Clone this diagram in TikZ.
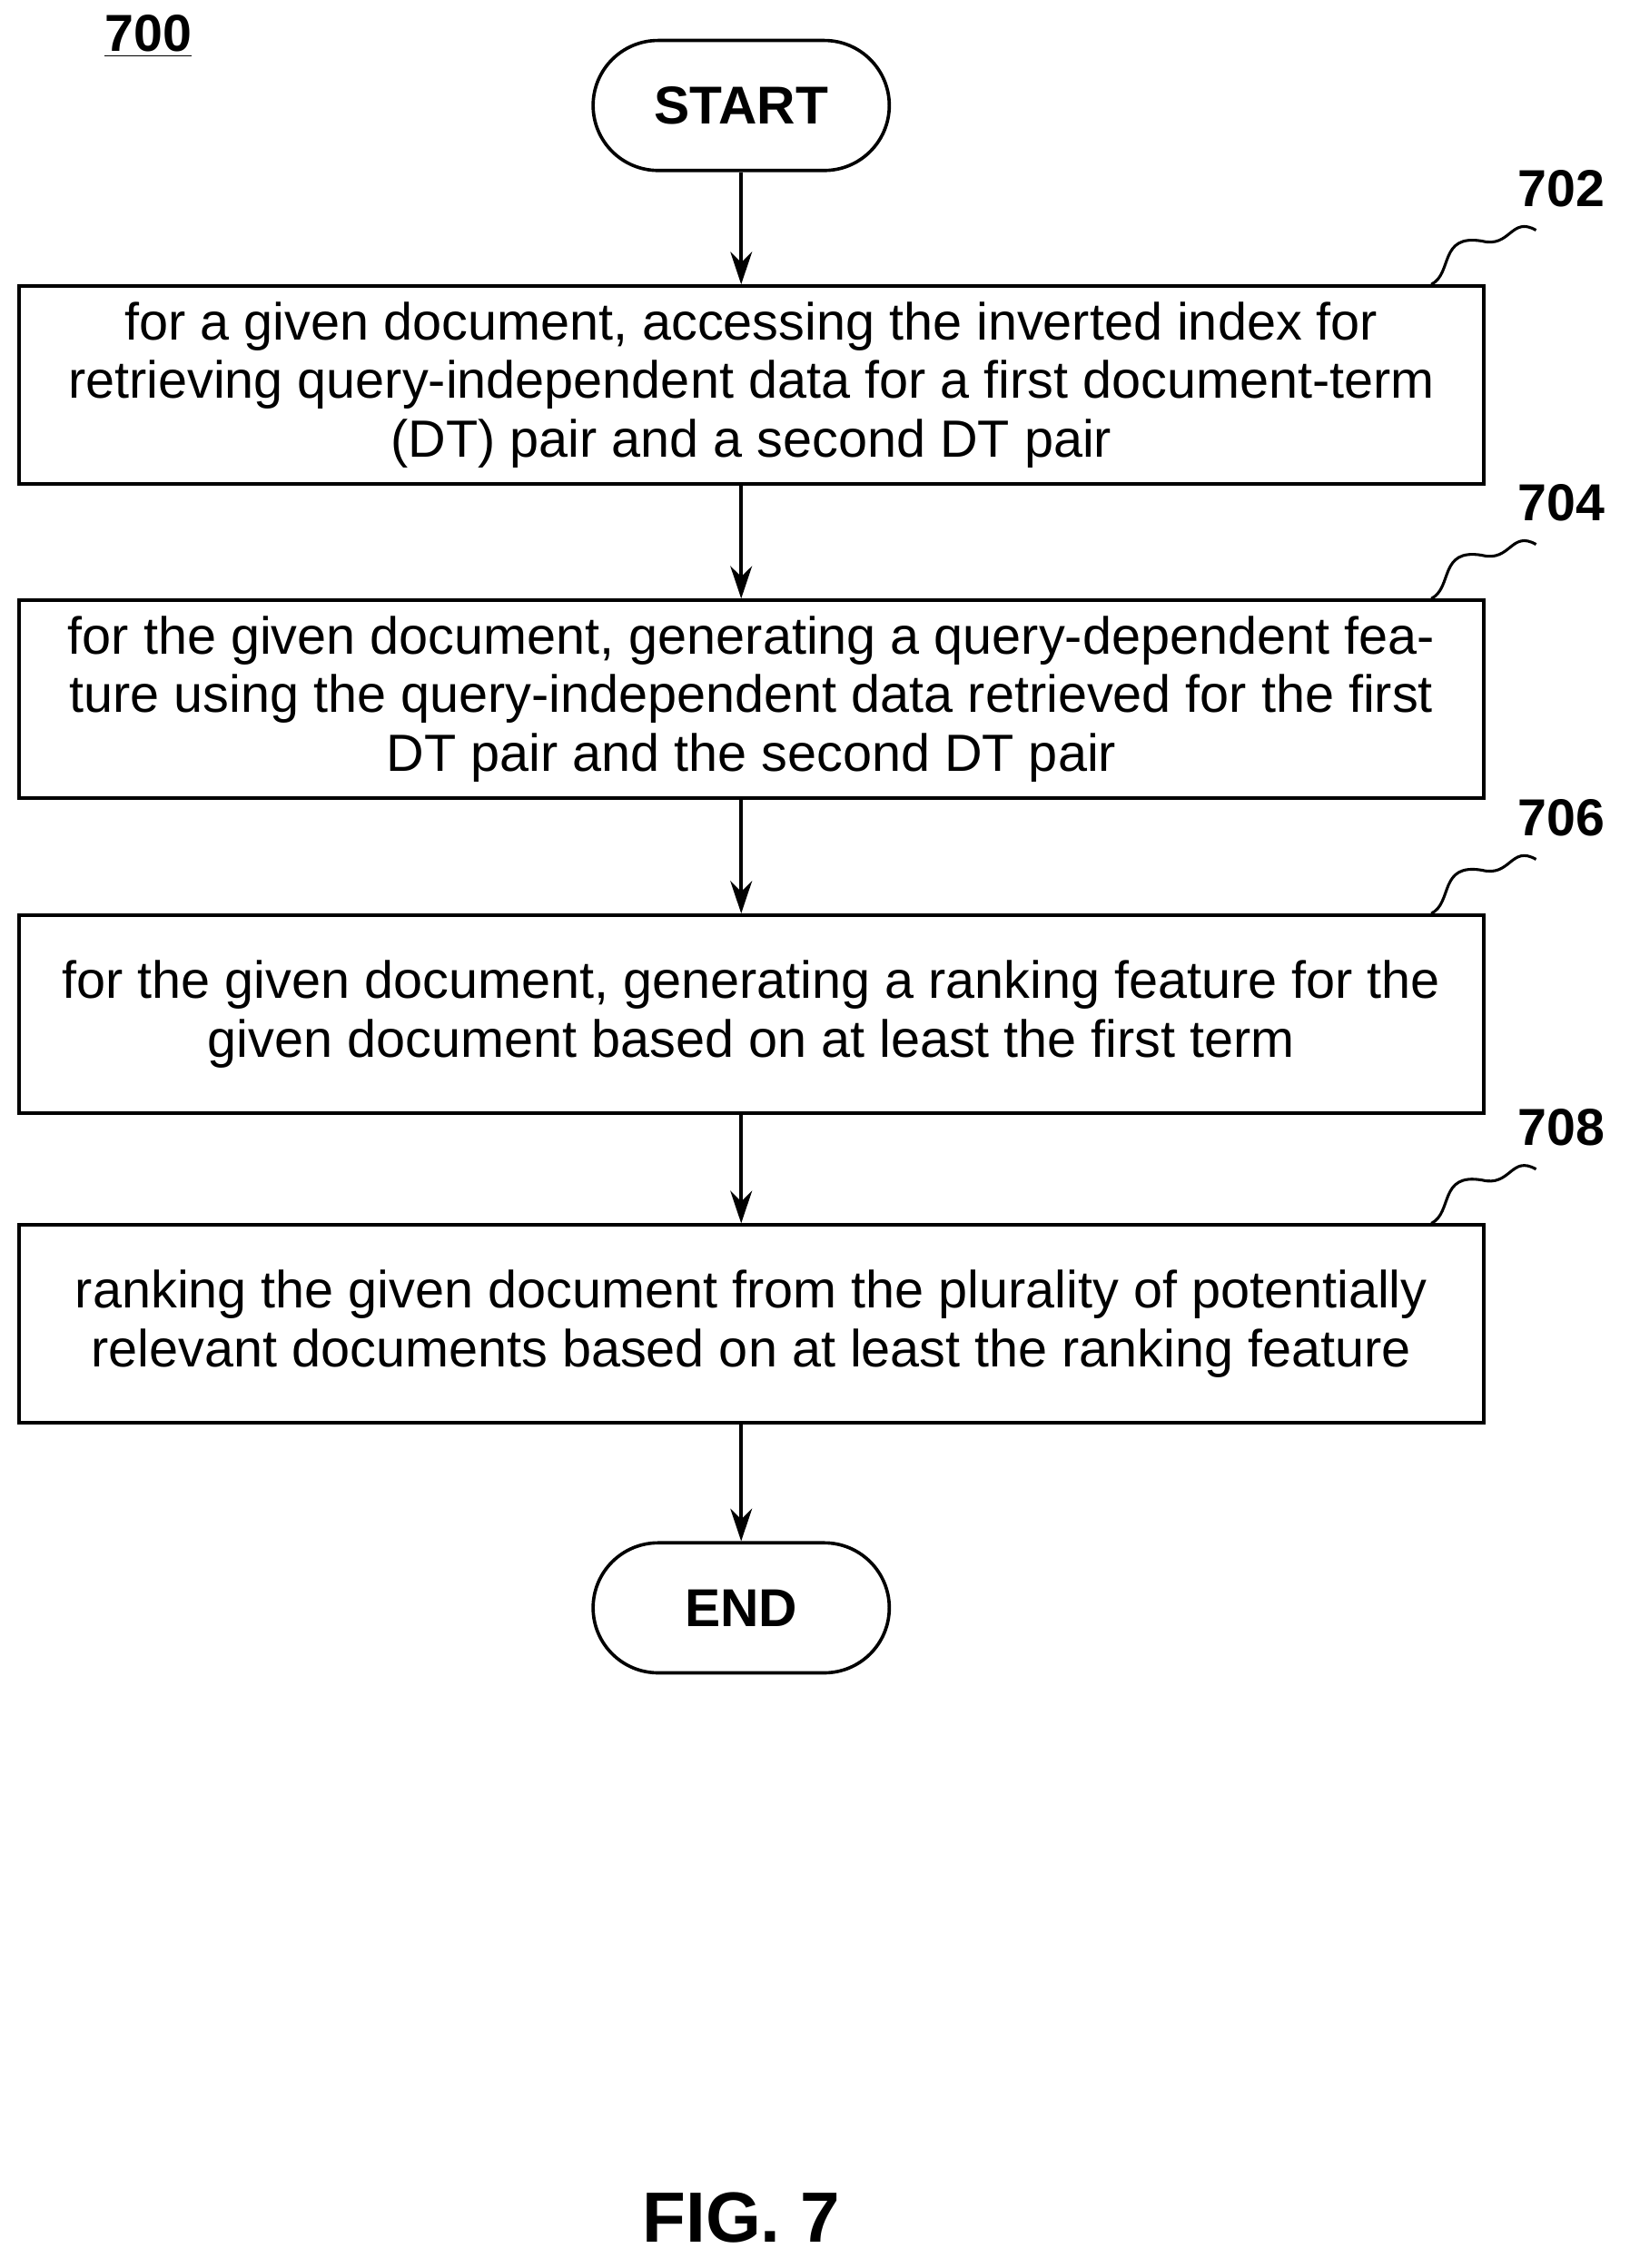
\documentclass[tikz,border=0pt]{standalone}
\usepackage{fontspec}
\setmainfont{Liberation Sans}
\usetikzlibrary{arrows.meta,positioning}

\begin{document}
\begin{tikzpicture}[
	stepbox/.style={draw, line width=1.3pt, minimum width=20.28cm, minimum height=2.74cm,
		align=center, font=\fontsize{20.6}{23}\selectfont},
	term/.style={draw, line width=1.3pt, rounded corners=0.9cm, minimum width=4.1cm,
		minimum height=1.8cm, font=\fontsize{21}{24}\selectfont\bfseries},
	flow/.style={line width=1.3pt, -{Stealth[length=0.45cm,width=0.3cm]}},
	tag/.style={font=\fontsize{20.5}{23}\selectfont\bfseries}
]
	\useasboundingbox (0,0) rectangle (22.56,-31.4);
	\node[tag] (fig) at (2.05,-0.5) {\underline{700}};
	\node[term] (start) at (10.26,-1.46) {START};
	\node[stepbox] (s702) at (10.4,-5.33) {for a given document, accessing the inverted index for\\
		retrieving query-independent data for a first document-term\\
		(DT) pair and a second DT pair};
	\node[stepbox] (s704) at (10.4,-9.68) {for the given document, generating a query-dependent fea-\\
		ture using the query-independent data retrieved for the first\\
		DT pair and the second DT pair};
	\node[stepbox] (s706) at (10.4,-14.04) {for the given document, generating a ranking feature for the\\
		given document based on at least the first term};
	\node[stepbox] (s708) at (10.4,-18.33) {ranking the given document from the plurality of potentially\\
		relevant documents based on at least the ranking feature};
	\node[term] (end) at (10.26,-22.26) {END};
	\node[font=\fontsize{28}{32}\selectfont\bfseries] (title) at (10.26,-30.7) {FIG. 7};
	% connectors
	\draw[flow] (start) -- (s702.north -| start);
	\draw[flow] (s702.south -| start) -- (s704.north -| start);
	\draw[flow] (s704.south -| start) -- (s706.north -| start);
	\draw[flow] (s706.south -| start) -- (s708.north -| start);
	\draw[flow] (s708.south -| start) -- (end);
	% reference numerals
	\foreach \s in {702,704,706,708}{
		\coordinate (a\s) at ([xshift=-0.75cm]s\s.north east);
		\coordinate (c\s) at ([shift={(1.45cm,0.75cm)}]a\s);
		\draw[line width=1.1pt] (a\s) .. controls ([shift={(0.3cm,0.15cm)}]a\s) and ([shift={(0.1cm,0.7cm)}]a\s) .. ([shift={(0.7cm,0.6cm)}]a\s)
			.. controls ([shift={(1.1cm,0.5cm)}]a\s) and ([shift={(1.1cm,0.95cm)}]a\s) .. (c\s);
		\node[tag, anchor=south] (n\s) at ([shift={(0.35cm,0.2cm)}]c\s) {\s};
	}
\end{tikzpicture}
\end{document}
